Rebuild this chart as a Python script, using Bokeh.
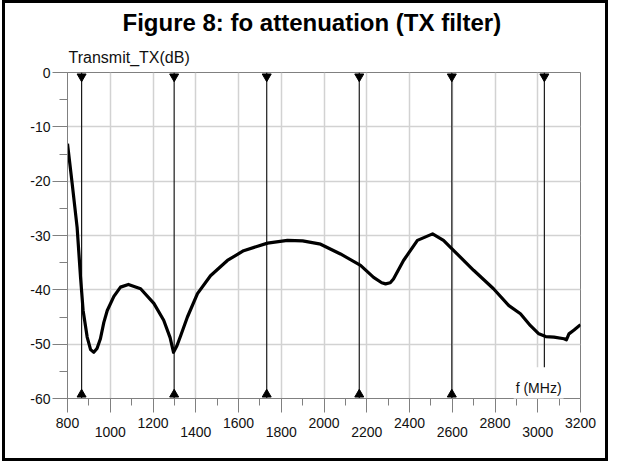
from bokeh.plotting import figure
from bokeh.models import FixedTicker, LinearAxis, Label, Range1d, Title
from bokeh.embed import file_html
from bokeh.resources import INLINE

# ---- data ----
freq_mhz = [800, 822, 845, 861, 873, 892, 908, 923, 938, 954, 970, 986, 1017, 1048,
            1085, 1142, 1204, 1250, 1280, 1296, 1312, 1329, 1361, 1408, 1469, 1548,
            1624, 1736, 1829, 1900, 1984, 2077, 2171, 2232, 2270, 2288, 2310, 2325,
            2372, 2437, 2508, 2559, 2600, 2700, 2793, 2865, 2919, 2966, 3005, 3037,
            3076, 3123, 3134, 3146, 3170, 3200]
atten_db = [-13.1, -20.5, -28.5, -37.7, -43.8, -48.7, -51.0, -51.5, -50.8, -49.0,
            -46.0, -43.8, -41.2, -39.5, -39.0, -39.8, -42.5, -45.6, -48.8, -51.5,
            -50.3, -48.5, -45.0, -40.7, -37.4, -34.6, -32.8, -31.4, -30.9, -31.0,
            -31.6, -33.4, -35.5, -37.7, -38.7, -38.9, -38.7, -38.0, -34.6, -30.9,
            -29.7, -30.9, -32.5, -36.4, -39.8, -42.9, -44.4, -46.6, -48.1, -48.6,
            -48.7, -49.0, -49.2, -48.1, -47.4, -46.4]
harmonic_mhz = [866, 1299, 1732, 2165, 2598, 3031]

x_major = [800, 1000, 1200, 1400, 1600, 1800, 2000, 2200, 2400, 2600, 2800, 3000, 3200]
x_minor = [900, 1100, 1300, 1500, 1700, 1900, 2100, 2300, 2500, 2700, 2900, 3100]
x_labels_upper = [800, 1200, 1600, 2000, 2400, 2800, 3200]
x_labels_lower = [1000, 1400, 1800, 2200, 2600, 3000]
y_major = [0, -10, -20, -30, -40, -50, -60]
y_minor = [-5, -15, -25, -35, -45, -55]
y_tick_labels = ["0", "-10", "-20", "-30", "-40", "-50", "-60"]

title_text = "Figure 8: fo attenuation (TX filter)"
y_title = "Transmit_TX(dB)"
x_title = "f (MHz)"

FONT = "Liberation Sans"
AXIS_GRAY = "#808080"
GRID_GRAY = "#d2d2d2"

x_lo, x_hi = x_major[0], x_major[-1]
y_lo, y_hi = y_major[-1], y_major[0]

p = figure(width=606, height=461, output_backend="svg", toolbar_location=None,
           x_range=Range1d(x_lo, x_hi), y_range=Range1d(y_lo, y_hi),
           min_border_left=62, min_border_right=31, min_border_top=69,
           min_border_bottom=66)
p.styles = {"border": "3px solid black", "margin-left": "2px"}
p.background_fill_color = "white"
p.border_fill_color = "white"
p.outline_line_color = AXIS_GRAY
p.outline_line_width = 1

# hide built-in title; use explicit titles
p.title.visible = False
p.title.text = ""

t_y = Title(text=y_title, align="left", offset=1, standoff=14,
            text_font=FONT, text_font_size="16px", text_font_style="normal",
            text_color="#111111")
p.add_layout(t_y, "above")
t_main = Title(text=title_text, align="left", offset=55, standoff=7,
               text_font=FONT, text_font_size="24px", text_font_style="bold",
               text_color="black")
p.add_layout(t_main, "above")

# x axis (upper row of labels)
xa = p.xaxis[0]
xa.ticker = FixedTicker(ticks=x_major, minor_ticks=x_minor)
xa.major_label_overrides = {v: "" for v in x_labels_lower}
xa.axis_line_color = AXIS_GRAY
xa.major_tick_line_color = AXIS_GRAY
xa.minor_tick_line_color = AXIS_GRAY
xa.major_tick_in = 0
xa.major_tick_out = 14
xa.minor_tick_in = 0
xa.minor_tick_out = 7
xa.major_label_standoff = 5
xa.major_label_text_font = FONT
xa.major_label_text_font_size = "14px"
xa.major_label_text_color = "#111111"

# second x axis: lower (staggered) row of labels
xa2 = LinearAxis(ticker=FixedTicker(ticks=x_labels_lower, minor_ticks=[]))
xa2.axis_line_color = None
xa2.major_tick_line_color = None
xa2.minor_tick_line_color = None
xa2.major_tick_in = 0
xa2.major_tick_out = 0
xa2.major_label_standoff = -4
xa2.major_label_text_font = FONT
xa2.major_label_text_font_size = "14px"
xa2.major_label_text_color = "#111111"
p.add_layout(xa2, "below")

# y axis
ya = p.yaxis[0]
ya.ticker = FixedTicker(ticks=y_major, minor_ticks=y_minor)
ya.major_label_overrides = dict(zip(y_major, y_tick_labels))
ya.axis_line_color = AXIS_GRAY
ya.major_tick_line_color = AXIS_GRAY
ya.minor_tick_line_color = AXIS_GRAY
ya.major_tick_in = 0
ya.major_tick_out = 15
ya.minor_tick_in = 0
ya.minor_tick_out = 8
ya.major_label_standoff = 2
ya.major_label_text_font = FONT
ya.major_label_text_font_size = "14px"
ya.major_label_text_color = "#111111"

# grids
p.xgrid.ticker = FixedTicker(ticks=x_major)
p.ygrid.ticker = FixedTicker(ticks=y_major)
for g in (p.xgrid, p.ygrid):
    g.grid_line_color = GRID_GRAY
    g.grid_line_width = 1.5

# harmonic markers
n = len(harmonic_mhz)
p.segment(x0=harmonic_mhz, y0=[y_hi] * n, x1=harmonic_mhz, y1=[y_lo] * n,
          line_color="#1a1a1a", line_width=1.2)
p.scatter(x=harmonic_mhz, y=[y_hi - 0.75] * n, marker="inverted_triangle",
          size=9, fill_color="black", line_color="black")
p.scatter(x=harmonic_mhz, y=[y_lo + 0.75] * n, marker="triangle",
          size=9, fill_color="black", line_color="black")

# curve
p.line(freq_mhz, atten_db, line_color="black", line_width=3.2, line_join="round")

# x axis title inside the frame
p.add_layout(Label(x=3004, y=-57.2, text=x_title, text_align="center",
                   text_baseline="middle", text_font=FONT, text_font_size="14px",
                   text_color="#111111", background_fill_color="white",
                   padding=dict(top=13, right=2, bottom=3, left=2)))

open("out.html", "w").write(file_html(p, INLINE))
